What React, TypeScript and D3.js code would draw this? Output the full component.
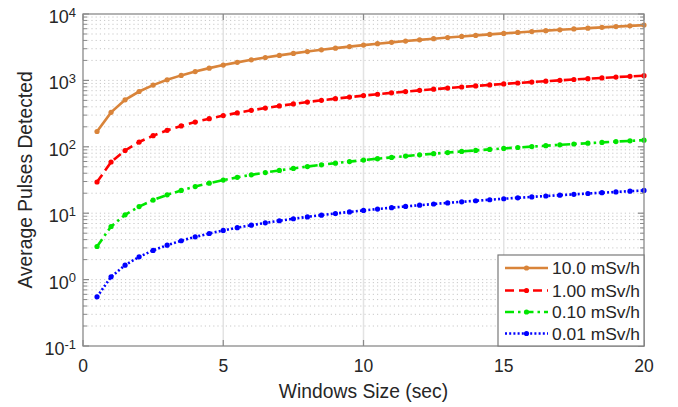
import React from "react";
import * as d3 from "d3";

const windowSizes = [0.5, 1, 1.5, 2, 2.5, 3, 3.5, 4, 4.5, 5, 5.5, 6, 6.5, 7, 7.5, 8, 8.5, 9, 9.5, 10, 10.5, 11, 11.5, 12, 12.5, 13, 13.5, 14, 14.5, 15, 15.5, 16, 16.5, 17, 17.5, 18, 18.5, 19, 19.5, 20];
const series10 = [170, 330, 510, 680, 850, 1020, 1190, 1360, 1530, 1700, 1870, 2040, 2210, 2380, 2550, 2720, 2890, 3060, 3230, 3400, 3570, 3740, 3910, 4080, 4250, 4420, 4590, 4760, 4930, 5100, 5270, 5440, 5610, 5780, 5950, 6120, 6290, 6460, 6630, 6800];
const series1 = [29.5, 59, 88, 118, 147, 177, 206, 236, 265, 295, 324, 354, 383, 413, 442, 472, 501, 531, 560, 590, 619, 649, 678, 708, 737, 767, 796, 826, 855, 885, 914, 944, 973, 1003, 1032, 1062, 1091, 1121, 1150, 1180];
const series01 = [3.15, 6.3, 9.45, 12.6, 15.75, 18.9, 22.05, 25.2, 28.35, 31.5, 34.65, 37.8, 40.95, 44.1, 47.25, 50.4, 53.55, 56.7, 59.85, 63, 66.15, 69.3, 72.45, 75.6, 78.75, 81.9, 85.05, 88.2, 91.35, 94.5, 97.65, 100.8, 103.95, 107.1, 110.25, 113.4, 116.55, 119.7, 122.85, 126];
const series001 = [0.55, 1.1, 1.65, 2.2, 2.75, 3.3, 3.85, 4.4, 4.95, 5.5, 6.05, 6.6, 7.15, 7.7, 8.25, 8.8, 9.35, 9.9, 10.45, 11, 11.55, 12.1, 12.65, 13.2, 13.75, 14.3, 14.85, 15.4, 15.95, 16.5, 17.05, 17.6, 18.15, 18.7, 19.25, 19.8, 20.35, 20.9, 21.45, 22];
const seriesLabels = ["10.0 mSv/h", "1.00 mSv/h", "0.10 mSv/h", "0.01 mSv/h"];
const xTicks = [0, 5, 10, 15, 20];
const yExponents = [-1, 0, 1, 2, 3, 4];

const W = 678, H = 407;
const M = { left: 83, right: 644, top: 14, bottom: 346 };
const FONT = "'Liberation Sans', Arial, Helvetica, sans-serif";
const TXT = "#262626";

const styles = [
  { color: "#D9843A", dash: "none" },
  { color: "#FF0000", dash: "9,5" },
  { color: "#00E600", dash: "9,4,2.5,4" },
  { color: "#0000FF", dash: "2,2.2" },
];

export default function App() {
  const x = d3.scaleLinear().domain([0, 20]).range([M.left, M.right]);
  const y = d3.scaleLog().domain([0.1, 10000]).range([M.bottom, M.top]);
  const allSeries = [series10, series1, series01, series001];
  const line = d3
    .line<number>()
    .x((_, i) => x(windowSizes[i]))
    .y((d) => y(d));

  const minorY: number[] = [];
  for (let e = -1; e < 4; e++) {
    for (let k = 2; k <= 9; k++) minorY.push(k * Math.pow(10, e));
  }
  const majorY = yExponents.map((e) => Math.pow(10, e));

  const legX = 498, legY = 255, legW = M.right - legX, legH = M.bottom - legY;
  const rowY = [268, 290.5, 312, 333.5];

  return (
    <svg width={W} height={H} style={{ position: "absolute", left: 0, top: 0, background: "#fff" }} fontFamily={FONT}>
      <rect x={0} y={0} width={W} height={H} fill="#fff" />
      {/* grid */}
      {minorY.concat(majorY.slice(1, -1)).map((v, i) => (
        <line key={"gy" + i} x1={M.left} x2={M.right} y1={y(v)} y2={y(v)} stroke="#c8c8c8" strokeWidth={1} strokeDasharray="1.2,3" />
      ))}
      {xTicks.slice(1, -1).map((v) => (
        <line key={"gx" + v} x1={x(v)} x2={x(v)} y1={M.top} y2={M.bottom} stroke="#e3e3e3" strokeWidth={1.5} />
      ))}
      {/* series */}
      {allSeries.map((s, si) => (
        <g key={"s" + si}>
          <path d={line(s) || ""} fill="none" stroke={styles[si].color} strokeWidth={2.6} strokeDasharray={styles[si].dash} />
          {s.map((v, i) => (
            <circle key={i} cx={x(windowSizes[i])} cy={y(v)} r={2.6} fill={styles[si].color} />
          ))}
        </g>
      ))}
      {/* axes box */}
      <rect x={M.left} y={M.top} width={M.right - M.left} height={M.bottom - M.top} fill="none" stroke="#8a8a8a" strokeWidth={1.3} />
      {/* x ticks */}
      {xTicks.map((v) => (
        <g key={"xt" + v}>
          <line x1={x(v)} x2={x(v)} y1={M.bottom} y2={M.bottom - 6} stroke="#8a8a8a" strokeWidth={1.2} />
          <line x1={x(v)} x2={x(v)} y1={M.top} y2={M.top + 6} stroke="#8a8a8a" strokeWidth={1.2} />
          <text x={x(v)} y={372} textAnchor="middle" fontSize={17.5} fill={TXT}>{v}</text>
        </g>
      ))}
      {/* y ticks */}
      {majorY.map((v) => (
        <g key={"ym" + v}>
          <line x1={M.left} x2={M.left + 6} y1={y(v)} y2={y(v)} stroke="#8a8a8a" strokeWidth={1.2} />
          <line x1={M.right} x2={M.right - 6} y1={y(v)} y2={y(v)} stroke="#8a8a8a" strokeWidth={1.2} />
        </g>
      ))}
      {minorY.map((v, i) => (
        <g key={"yn" + i}>
          <line x1={M.left} x2={M.left + 4} y1={y(v)} y2={y(v)} stroke="#8a8a8a" strokeWidth={1} />
          <line x1={M.right} x2={M.right - 4} y1={y(v)} y2={y(v)} stroke="#8a8a8a" strokeWidth={1} />
        </g>
      ))}
      {yExponents.map((e) => (
        <text key={"yl" + e} x={76} y={y(Math.pow(10, e)) + 9} textAnchor="end" fontSize={18} fill={TXT}>
          10
          <tspan dy={-6.5} fontSize={13}>{e}</tspan>
        </text>
      ))}
      {/* axis labels */}
      <text x={(M.left + M.right) / 2} y={398} textAnchor="middle" fontSize={19.3} fill={TXT}>Windows Size (sec)</text>
      <text transform={`translate(32,${(M.top + M.bottom) / 2}) rotate(-90)`} textAnchor="middle" fontSize={19.3} fill={TXT}>Average Pulses Detected</text>
      {/* legend */}
      <rect x={legX} y={legY} width={legW} height={legH} fill="#fff" stroke="#7a7a7a" strokeWidth={1.2} />
      {seriesLabels.map((lab, i) => (
        <g key={"lg" + i}>
          <line x1={505} x2={548} y1={rowY[i]} y2={rowY[i]} stroke={styles[i].color} strokeWidth={2.6} strokeDasharray={styles[i].dash} />
          <circle cx={526.5} cy={rowY[i]} r={2.6} fill={styles[i].color} />
          <text x={552} y={rowY[i] + 6.2} fontSize={17.4} fill={TXT}>{lab}</text>
        </g>
      ))}
    </svg>
  );
}
